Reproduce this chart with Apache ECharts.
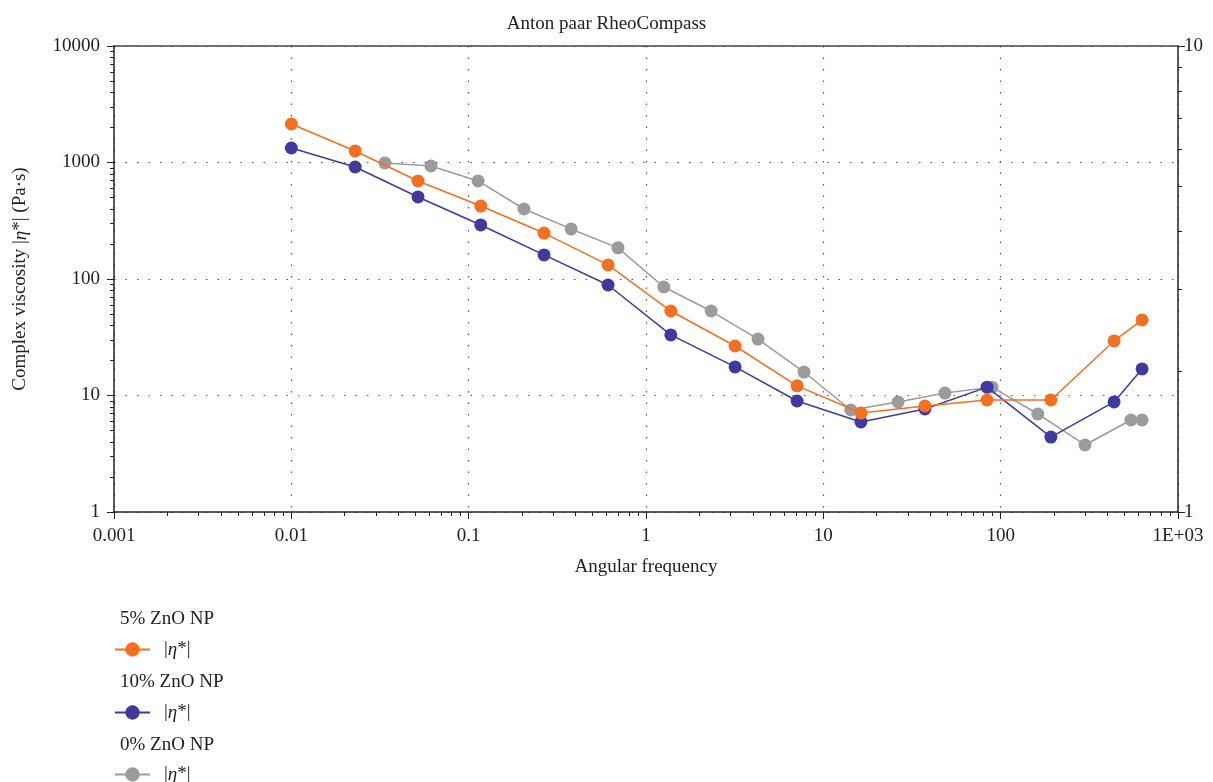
<!DOCTYPE html>
<html>
<head>
<meta charset="utf-8">
<title>Anton paar RheoCompass</title>
<script src="https://cdn.jsdelivr.net/npm/echarts@6/dist/echarts.min.js"></script>
<style>
  html, body { margin: 0; padding: 0; background: #ffffff; }
  #chart { width: 1213px; height: 782px; }
</style>
</head>
<body>
<div id="chart"></div>
<script>
  // angular frequency / complex viscosity
  var freq5 = [0.01, 0.0229, 0.0518, 0.117, 0.266, 0.611, 1.38, 3.18, 7.11, 16.3, 37.4, 83.8, 192, 436, 627]
  var eta5 = [2140, 1256, 694, 423, 248, 132, 53.1, 26.6, 12.1, 7.07, 8.13, 9.15, 9.15, 29.4, 44.5]
  var freq10 = [0.01, 0.0229, 0.0518, 0.117, 0.266, 0.611, 1.38, 3.18, 7.11, 16.3, 37.4, 83.8, 192, 436, 627]
  var eta10 = [1332, 915, 506, 291, 161, 88.8, 33.1, 17.6, 8.97, 5.92, 7.66, 11.8, 4.4, 8.8, 16.9]
  var freq0 = [0.0337, 0.0613, 0.113, 0.205, 0.378, 0.695, 1.26, 2.33, 4.28, 7.78, 14.3, 26.4, 48.5, 89.4, 162, 299, 543, 627]
  var eta0 = [991, 933, 694, 399, 269, 185, 85.4, 53.1, 30.5, 15.9, 7.51, 8.8, 10.5, 11.8, 6.94, 3.76, 6.16, 6.16]
  var xTickLabels = ['0.001', '0.01', '0.1', '1', '10', '100', '1E+03']
  var yTickLabels = ['1', '10', '100', '1000', '10000']
  var groupNames = ['5% ZnO NP', '10% ZnO NP', '0% ZnO NP']
  var colors = ['#f36f21', '#3f3a9f', '#9b9b9b']

  var font = 'Liberation Serif'
  var fs = 19
  var chart = echarts.init(document.getElementById('chart'))

  function pairs (xs, ys) {
    return xs.map(function (x, i) { return [x, ys[i]] })
  }
  function series (idx, xs, ys) {
    return {
      name: groupNames[idx] + ' |η*|',
      type: 'line',
      data: pairs(xs, ys),
      symbol: 'circle',
      symbolSize: 13,
      color: colors[idx],
      lineStyle: { width: 1.5, color: colors[idx] },
      itemStyle: { color: colors[idx] },
      z: 10 - idx
    }
  }
  function legend (idx, top) {
    return {
      data: [groupNames[idx] + ' |η*|'],
      left: 114,
      top: top,
      padding: 0,
      itemWidth: 35,
      itemHeight: 18,
      formatter: function () { return '{g|}|{i|η}*|' },
      textStyle: {
        fontFamily: font, fontSize: fs, color: '#222',
        rich: {
          g: { width: 9 },
          i: { fontFamily: font, fontSize: fs, fontStyle: 'italic', color: '#222' }
        }
      },
      selectedMode: false
    }
  }
  function header (idx, top) {
    return {
      text: groupNames[idx],
      left: 115,
      top: top,
      textStyle: { fontFamily: font, fontSize: fs, fontWeight: 'normal', color: '#222' }
    }
  }
  var axisText = { fontFamily: font, fontSize: fs, color: '#222' }
  var dotted = { show: true, lineStyle: { color: '#555', type: [1.5, 10], width: 1.2 } }

  var option = {
    backgroundColor: '#ffffff',
    animation: false,
    title: [
      { text: 'Anton paar RheoCompass', left: 'center', top: 10, textStyle: { fontFamily: font, fontSize: fs, fontWeight: 'normal', color: '#222' } },
      header(0, 605),
      header(1, 668),
      header(2, 731)
    ],
    legend: [legend(0, 640), legend(1, 703), legend(2, 765)],
    grid: { left: 114, right: 35, top: 46, bottom: 270 },
    xAxis: [
      {
        type: 'log',
        logBase: 10,
        min: 0.001,
        max: 1000,
        name: 'Angular frequency',
        nameLocation: 'middle',
        nameGap: 46,
        nameTextStyle: { fontFamily: font, fontSize: fs, color: '#222' },
        axisLine: { lineStyle: { color: '#222', width: 1.5 } },
        axisTick: { inside: false, length: 7, lineStyle: { color: '#222' } },
        minorTick: { show: true, splitNumber: 9, length: 4, lineStyle: { color: '#222' } },
        axisLabel: {
          formatter: function (v) { return xTickLabels[Math.round(Math.log10(v)) + 3] },
          margin: 15,
          ...axisText
        },
        splitLine: dotted
      },
      {
        type: 'log',
        position: 'top',
        min: 0.001,
        max: 1000,
        axisLine: { lineStyle: { color: '#444', width: 1.5 } },
        axisTick: { show: false },
        axisLabel: { show: false },
        splitLine: { show: false }
      }
    ],
    yAxis: [
      {
        type: 'log',
        logBase: 10,
        min: 1,
        max: 10000,
        name: 'Complex viscosity |{i|η}*| (Pa·s)',
        nameLocation: 'middle',
        nameGap: 84,
        nameRotate: 90,
        nameTextStyle: {
          fontFamily: font, fontSize: fs, color: '#222',
          rich: { i: { fontFamily: font, fontSize: fs, fontStyle: 'italic', color: '#222' } }
        },
        axisLine: { show: true, lineStyle: { color: '#222', width: 1.5 } },
        axisTick: { show: true, length: 7, lineStyle: { color: '#222' } },
        minorTick: { show: true, splitNumber: 9, length: 4, lineStyle: { color: '#222' } },
        axisLabel: {
          formatter: function (v) { return yTickLabels[Math.round(Math.log10(v))] },
          margin: 14,
          ...axisText
        },
        splitLine: dotted
      },
      {
        type: 'log',
        logBase: 10,
        min: 1,
        max: 10,
        position: 'right',
        axisLine: { show: true, lineStyle: { color: '#222', width: 1.5 } },
        axisTick: { show: true, length: 7, lineStyle: { color: '#222' } },
        minorTick: { show: true, splitNumber: 9, length: 4, lineStyle: { color: '#222' } },
        axisLabel: { formatter: function (v) { return String(Math.round(v)) }, margin: 6, ...axisText },
        splitLine: { show: false }
      }
    ],
    series: [
      series(0, freq5, eta5),
      series(1, freq10, eta10),
      series(2, freq0, eta0)
    ]
  }
  chart.setOption(option)
</script>
</body>
</html>
